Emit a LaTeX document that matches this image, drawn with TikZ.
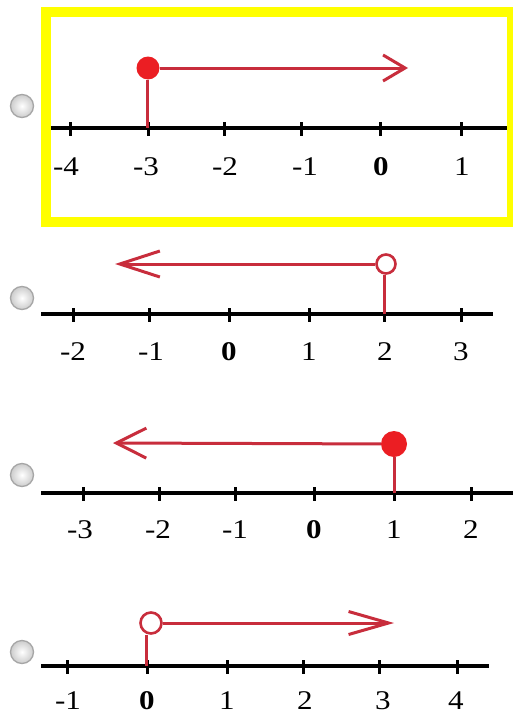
\documentclass[tikz,border=0pt]{standalone}
\usepackage{fontspec}
\setmainfont{Liberation Serif}
\usetikzlibrary{arrows.meta}
\definecolor{redline}{RGB}{200,45,60}
\definecolor{reddot}{RGB}{235,30,35}
\definecolor{yel}{RGB}{255,255,0}
\begin{document}
\begin{tikzpicture}[x=1pt,y=-1pt,
  axisline/.style={line width=3.5pt, black},
  tickmark/.style={line width=3pt, black},
  lab/.style={font=\fontsize{27}{27}\selectfont, inner sep=0pt, anchor=center, xscale=1.15},
  ray/.style={line width=3pt, redline},
  fdot/.style={circle, fill=reddot, inner sep=0pt, minimum size=#1},
  odot/.style={circle, draw=redline, line width=2.6pt, fill=white, inner sep=0pt, minimum size=#1},
  radio/.style={circle, minimum size=23pt, inner sep=0pt, draw=gray!70, line width=1.3pt, inner color=white, outer color=gray!40},
]
\useasboundingbox (0,0) rectangle (513,715);
\fill[white] (0,0) rectangle (513,715);

% ---------- Panel 1 ----------
\draw[yel, line width=10pt] (46,12) rectangle (512,222);
\node[radio] (r1) at (22,106) {};
\coordinate (a1s) at (51,128);
\coordinate (a1e) at (507,128);
\draw[axisline] (a1s) -- (a1e);
\foreach \x/\t [count=\i] in {66/-4,146/-3,225/-2,305/-1,381/\textbf{0},462/1}{
  \node[lab] (p1l\i) at (\x,167) {\t};
}
\foreach \x in {70,148,224,301,380,461}{
  \draw[tickmark] (\x,122) -- (\x,136);
}
\node[fdot=23pt] (d1) at (148,68) {};
\coordinate (t1) at (408,68);
\coordinate (f1) at (147,128);
\draw[ray, -{Straight Barb[length=22pt,width=26pt]}] (d1) -- (t1);
\draw[ray] (f1 |- d1.south) -- (f1);

% ---------- Panel 2 ----------
\node[radio] (r2) at (22,298) {};
\coordinate (a2s) at (41,314);
\coordinate (a2e) at (493,314);
\draw[axisline] (a2s) -- (a2e);
\foreach \x in {73,149,229,309,384,461}{
  \draw[tickmark] (\x,308) -- (\x,322);
}
\foreach \x/\t [count=\i] in {73/-2,151/-1,229/\textbf{0},309/1,385/2,461/3}{
  \node[lab] (p2l\i) at (\x,352) {\t};
}
\node[odot=19pt] (d2) at (386,264) {};
\coordinate (t2) at (115,264);
\coordinate (f2) at (384,314);
\draw[ray, -{Straight Barb[length=40pt,width=26pt]}] (d2) -- (t2);
\draw[ray] (f2 |- d2.south) -- (f2);

% ---------- Panel 3 ----------
\node[radio] (r3) at (22,475) {};
\coordinate (a3s) at (41,493);
\coordinate (a3e) at (513,493);
\draw[axisline] (a3s) -- (a3e);
\foreach \x in {83,159,235,314,394,471}{
  \draw[tickmark] (\x,487) -- (\x,501);
}
\foreach \x/\t [count=\i] in {80/-3,158/-2,235/-1,314/\textbf{0},394/1,471/2}{
  \node[lab] (p3l\i) at (\x,530) {\t};
}
\node[fdot=26pt] (d3) at (394,444) {};
\coordinate (t3) at (113,443);
\coordinate (f3) at (394,493);
\draw[ray, -{Straight Barb[length=30pt,width=30pt]}] (d3) -- (t3);
\draw[ray] (f3 |- d3.south) -- (f3);

% ---------- Panel 4 ----------
\node[radio] (r4) at (22,652) {};
\coordinate (a4s) at (41,666);
\coordinate (a4e) at (489,666);
\draw[axisline] (a4s) -- (a4e);
\foreach \x in {67,147,227,303,379,457}{
  \draw[tickmark] (\x,660) -- (\x,674);
}
\foreach \x/\t [count=\i] in {68/-1,147/\textbf{0},227/1,305/2,383/3,456/4}{
  \node[lab] (p4l\i) at (\x,701) {\t};
}
\node[odot=21pt] (d4) at (151,623) {};
\coordinate (t4) at (394,623);
\coordinate (f4) at (146,666);
\draw[ray, -{Straight Barb[length=40pt,width=23pt]}] (d4) -- (t4);
\draw[ray] (f4 |- d4.south) -- (f4);
\end{tikzpicture}
\end{document}
